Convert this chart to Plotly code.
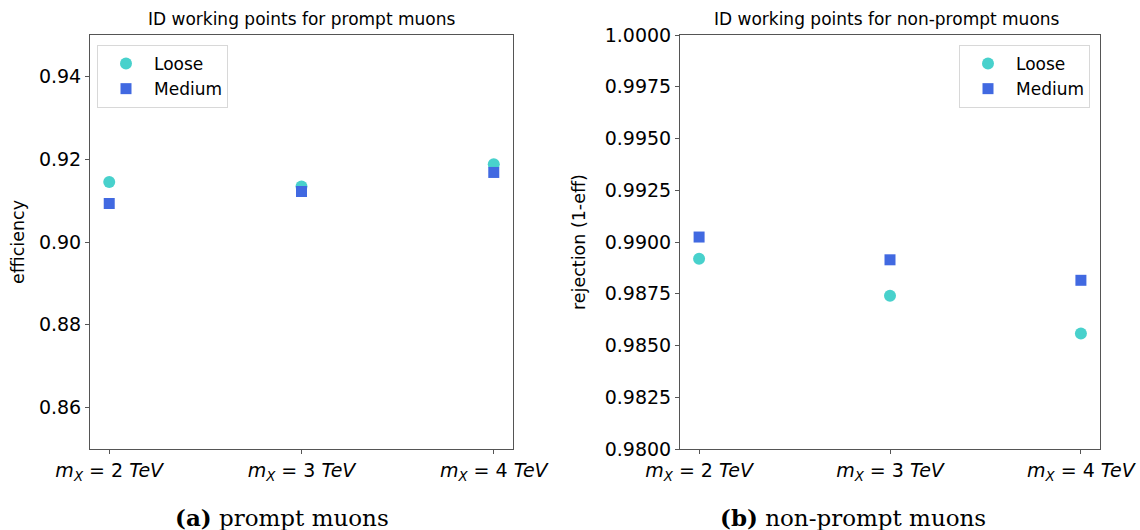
import plotly.graph_objects as go

categories = ["2 TeV", "3 TeV", "4 TeV"]
tick_labels = ["<i>m</i><sub><i>X</i></sub> = 2 <i>TeV</i>",
               "<i>m</i><sub><i>X</i></sub> = 3 <i>TeV</i>",
               "<i>m</i><sub><i>X</i></sub> = 4 <i>TeV</i>"]
prompt_loose = [0.9145, 0.9134, 0.9188]
prompt_medium = [0.9093, 0.9122, 0.9168]
nonprompt_loose = [0.98919, 0.98740, 0.98558]
nonprompt_medium = [0.99024, 0.98914, 0.98815]

LOOSE = "#48D1CC"
MEDIUM = "#4169E1"
FONT = "DejaVu Sans"

fig = go.Figure()
fig.add_trace(go.Scatter(x=categories, y=prompt_loose, mode="markers", name="Loose",
                         marker=dict(symbol="circle", size=12, color=LOOSE),
                         xaxis="x", yaxis="y", legend="legend"))
fig.add_trace(go.Scatter(x=categories, y=prompt_medium, mode="markers", name="Medium",
                         marker=dict(symbol="square", size=11, color=MEDIUM),
                         xaxis="x", yaxis="y", legend="legend"))
fig.add_trace(go.Scatter(x=categories, y=nonprompt_loose, mode="markers", name="Loose",
                         marker=dict(symbol="circle", size=12, color=LOOSE),
                         xaxis="x2", yaxis="y2", legend="legend2"))
fig.add_trace(go.Scatter(x=categories, y=nonprompt_medium, mode="markers", name="Medium",
                         marker=dict(symbol="square", size=11, color=MEDIUM),
                         xaxis="x2", yaxis="y2", legend="legend2"))

W, H = 1140, 530
def px(x): return x / W
def py(y): return 1 - y / H

axis_common = dict(showline=True, linecolor="#555", linewidth=1, mirror=True,
                   ticks="outside", ticklen=4, tickcolor="#555", showgrid=False,
                   zeroline=False, automargin=False,
                   tickfont=dict(family=FONT, size=19, color="black"))

legend_common = dict(bgcolor="rgba(255,255,255,0.8)", bordercolor="#d8d8d8", borderwidth=1,
                     font=dict(family=FONT, size=17), itemwidth=46)

fig.update_layout(
    width=W, height=H, margin=dict(l=0, r=0, t=0, b=0, autoexpand=False),
    paper_bgcolor="white", plot_bgcolor="white",
    font=dict(family=FONT, color="black"),
    xaxis=dict(domain=[px(90), px(513)], anchor="y", type="category",
               range=[-0.1, 2.1], tickvals=categories, ticktext=tick_labels, **axis_common),
    yaxis=dict(domain=[py(449), py(35)], anchor="x", range=[0.85, 0.95],
               tickvals=[0.86, 0.88, 0.90, 0.92, 0.94], tickformat=".2f", **axis_common),
    xaxis2=dict(domain=[px(680), px(1100)], anchor="y2", type="category",
                range=[-0.1, 2.1], tickvals=categories, ticktext=tick_labels, **axis_common),
    yaxis2=dict(domain=[py(449), py(35)], anchor="x2", range=[0.98, 1.0],
                tickvals=[0.98 + 0.0025 * i for i in range(9)], tickformat=".4f", **axis_common),
    legend=dict(x=px(97), y=py(45), xanchor="left", yanchor="top", **legend_common),
    legend2=dict(x=px(1090), y=py(45), xanchor="right", yanchor="top", **legend_common),
    showlegend=True,
)

annotations = [
    dict(text="ID working points for prompt muons", x=px(301), y=py(31), xref="paper", yref="paper",
         xanchor="center", yanchor="bottom", showarrow=False, font=dict(family=FONT, size=17)),
    dict(text="ID working points for non-prompt muons", x=px(887), y=py(31), xref="paper", yref="paper",
         xanchor="center", yanchor="bottom", showarrow=False, font=dict(family=FONT, size=17)),
    dict(text="efficiency", x=px(18), y=py(242), xref="paper", yref="paper", textangle=-90,
         xanchor="center", yanchor="middle", showarrow=False, font=dict(family=FONT, size=17.5)),
    dict(text="rejection (1-eff)", x=px(579), y=py(242), xref="paper", yref="paper", textangle=-90,
         xanchor="center", yanchor="middle", showarrow=False, font=dict(family=FONT, size=17.5)),
    dict(text="<b>(a)</b> prompt muons", x=px(282), y=py(517), xref="paper", yref="paper",
         xanchor="center", yanchor="middle", showarrow=False,
         font=dict(family="DejaVu Serif", size=23)),
    dict(text="<b>(b)</b> non-prompt muons", x=px(853), y=py(517), xref="paper", yref="paper",
         xanchor="center", yanchor="middle", showarrow=False,
         font=dict(family="DejaVu Serif", size=23)),
]
fig.update_layout(annotations=annotations)

fig.write_html("out.html")
